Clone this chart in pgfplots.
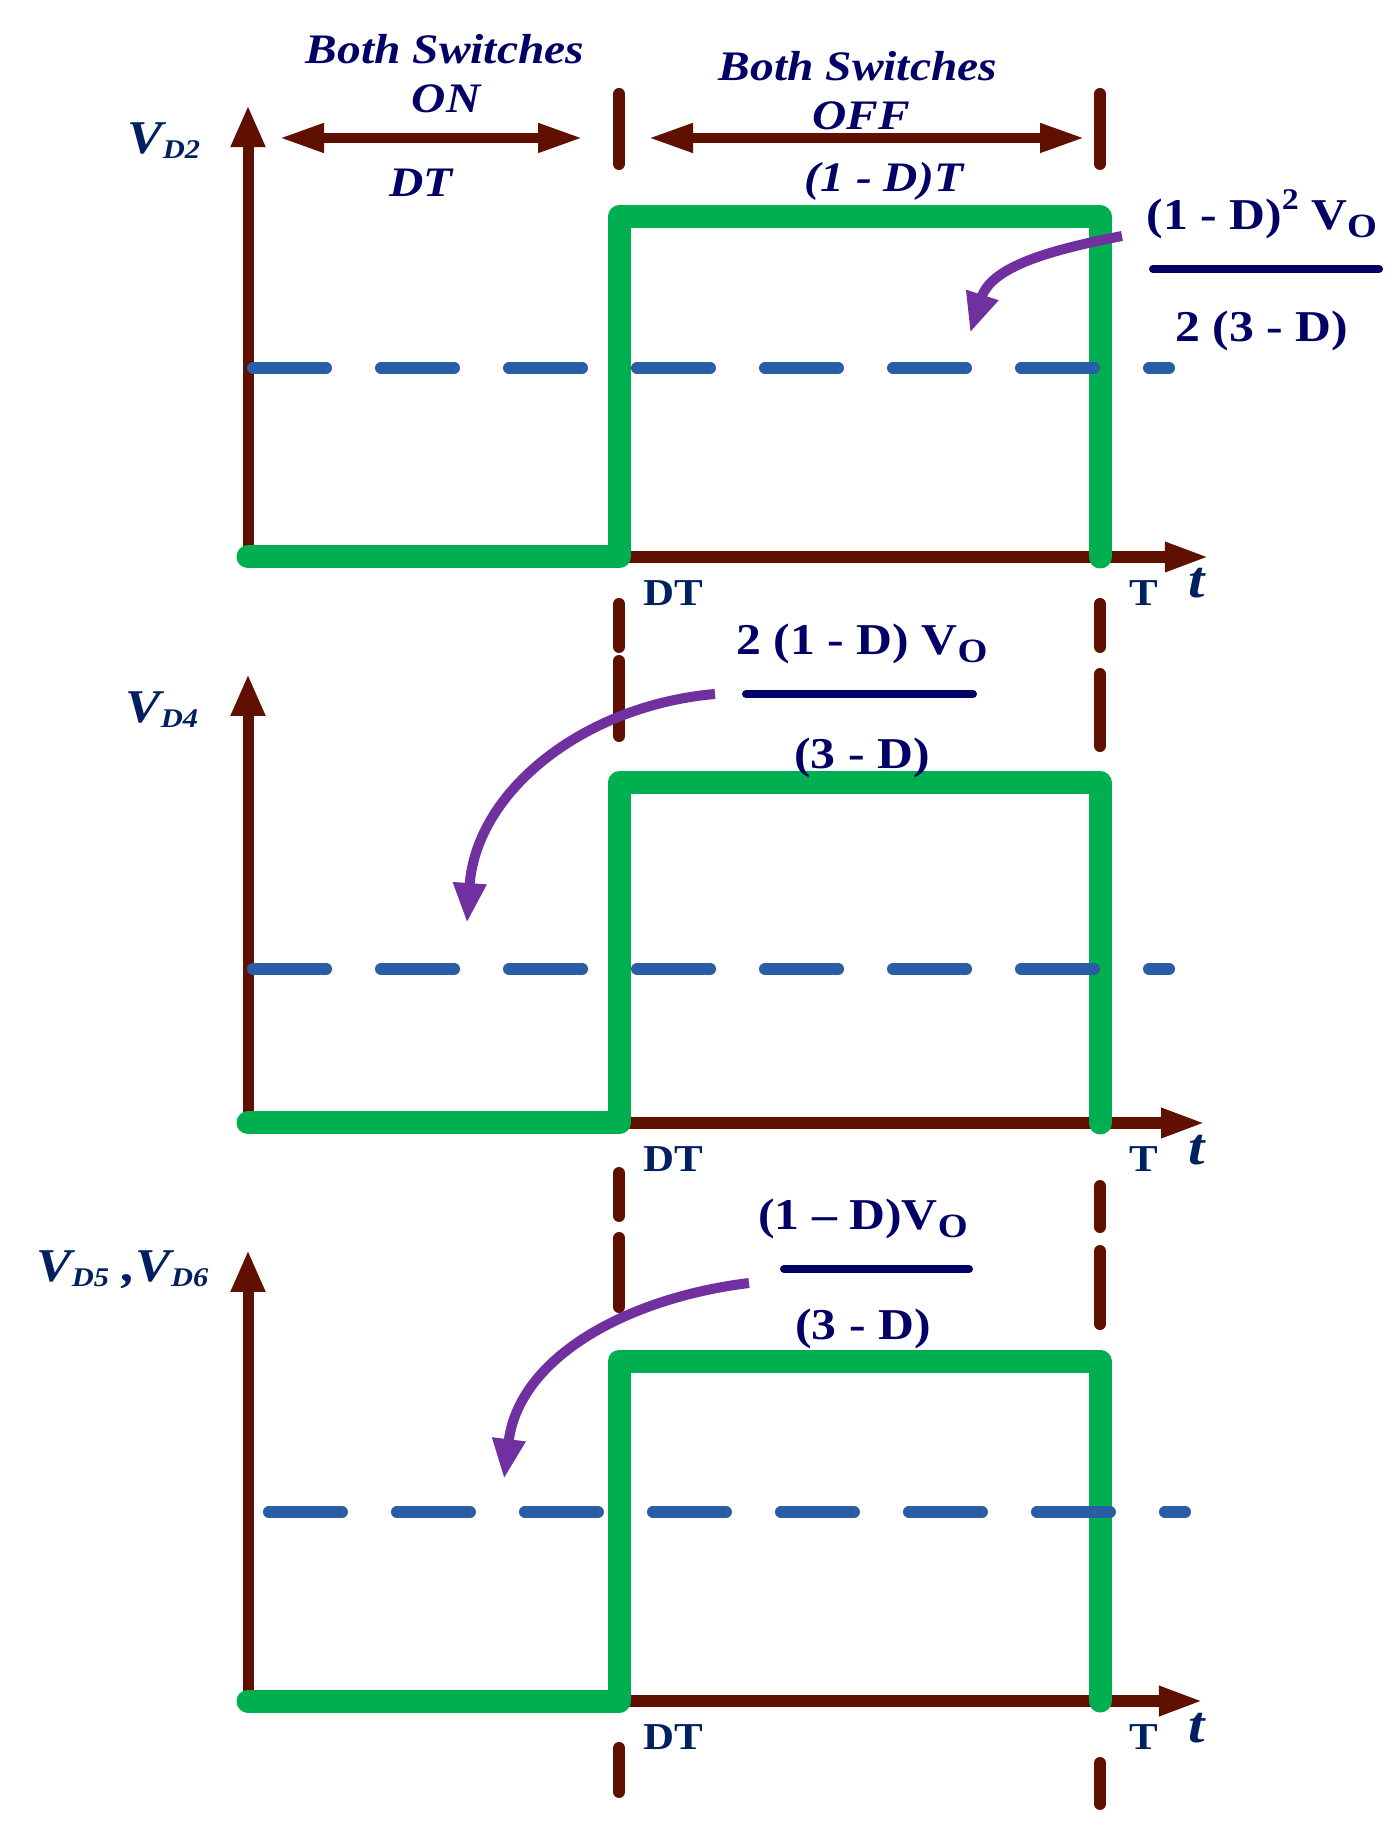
\documentclass[border=0pt]{standalone}
\usepackage{fontspec}
\setmainfont{Liberation Serif}[FakeStretch=1.13]
\usepackage{pgfplots}
\pgfplotsset{compat=1.18}
\usetikzlibrary{arrows.meta}
\definecolor{axbrown}{RGB}{96,16,0}
\definecolor{wgreen}{RGB}{0,176,80}
\definecolor{avgblue}{RGB}{41,94,166}
\definecolor{arrpurple}{RGB}{112,48,160}
\definecolor{navyA}{RGB}{0,0,102}
\definecolor{navyB}{RGB}{0,32,96}

\pgfplotsset{
  panel/.style={width=700pt, height=306pt, scale only axis, hide axis, clip=false,
    xmin=-0.29108, xmax=1.35211},
  wave/.style={wgreen, line width=11.5pt, line join=round, line cap=round},
  avg/.style={avgblue, line width=6pt, line cap=round, dash pattern=on 36.5pt off 27.5pt},
  markline/.style={axbrown, line width=6pt, line cap=round},
}
\tikzset{
  yax/.style={axbrown, line width=5.5pt, -{Triangle[length=21pt,width=16pt]}},
  xax/.style={axbrown, line width=6pt, -{Triangle[length=22.5pt,width=13.5pt]}},
  dbl/.style={axbrown, line width=5pt, {Triangle[length=22.5pt,width=13.5pt]}-{Triangle[length=22.5pt,width=13.5pt]}},
  parr/.style={arrpurple, line width=5pt, -{Triangle[length=20pt,width=15.5pt]}},
  fbar/.style={navyA, line width=4pt, line cap=round},
  toptxt/.style={anchor=base, inner sep=0pt, navyA, font=\fontsize{21}{25}\selectfont\bfseries\itshape},
  frtxt/.style={anchor=base, inner sep=0pt, navyA, font=\fontsize{22}{26}\selectfont\bfseries},
  vlab/.style={anchor=base west, inner sep=0pt, navyB, font=\fontsize{23.5}{28}\selectfont\bfseries\itshape},
  tlab/.style={anchor=base west, inner sep=0pt, navyB, font=\fontsize{19}{23}\selectfont\bfseries},
  tvar/.style={anchor=base west, inner sep=0pt, navyB, font=\fontsize{26}{30}\selectfont\bfseries\itshape},
}
\newcommand{\Sub}[1]{\raisebox{-2.5pt}{\fontsize{13.5}{16}\selectfont #1}}
\newcommand{\Vo}{V\raisebox{-4pt}{\fontsize{17}{20}\selectfont O}}

\begin{document}
\begin{tikzpicture}
\useasboundingbox (0pt,0pt) rectangle (700pt,-918pt);

% ---------------- Panel 1 : V_D2 ----------------
\begin{axis}[panel, at={(0pt,0pt)}, anchor=north west, ymin=-0.1618, ymax=1.6382]
\draw[yax] (axis cs:0,0) -- (axis cs:0,1.329);
\draw[xax] (axis cs:0,0) -- (axis cs:1.129,0);
\addplot[markline] coordinates {(0.4355,1.3618) (0.4355,1.1559)};
\addplot[markline] coordinates {(0.4355,-0.1382) (0.4355,-0.2647)};
\addplot[markline] coordinates {(1,1.3618) (1,1.1559)};
\addplot[markline] coordinates {(1,-0.1382) (1,-0.2647)};
\addplot[wave] coordinates {(0,0) (0.4355,0) (0.4355,1) (1,1) (1,0)};
\addplot[avg] coordinates {(0.0059,0.556) (1.081,0.556)};
\draw[dbl] (axis cs:0.0364,1.2324) -- (axis cs:0.3932,1.2324);
\draw[dbl] (axis cs:0.4695,1.2324) -- (axis cs:0.9824,1.2324);
\node[toptxt] at (axis cs:0.2312,1.4529) {Both Switches};
\node[toptxt] at (axis cs:0.2324,1.3059) {ON};
\node[toptxt] at (axis cs:0.2031,1.0588) {DT};
\node[toptxt] at (axis cs:0.7160,1.4029) {Both Switches};
\node[toptxt] at (axis cs:0.7195,1.2559) {OFF};
\node[toptxt] at (axis cs:0.7465,1.0735) {(1 - D)T};
\node[vlab] at (axis cs:-0.142,1.188) {V\Sub{D2}};
\node[tlab] at (axis cs:0.4636,-0.1412) {DT};
\node[tlab] at (axis cs:1.034,-0.1412) {T};
\node[tvar] at (axis cs:1.1033,-0.1206) {t};
\draw[parr] (axis cs:1.0258,0.9441) to[out=191,in=72] (axis cs:0.8474,0.6588);
\node[frtxt] at (axis cs:1.190,0.9618) {(1 - D)\raisebox{10pt}{\fontsize{15}{18}\selectfont 2} \Vo};
\draw[fbar] (axis cs:1.0622,0.847) -- (axis cs:1.3275,0.847);
\node[frtxt] at (axis cs:1.190,0.6324) {2 (3 - D)};
\end{axis}

% ---------------- Panel 2 : V_D4 ----------------
\begin{axis}[panel, at={(0pt,-306pt)}, anchor=north west, ymin=-0.2971, ymax=1.5029]
\draw[yax] (axis cs:0,0) -- (axis cs:0,1.3206);
\draw[xax] (axis cs:0,0) -- (axis cs:1.1245,0);
\addplot[markline] coordinates {(0.4355,1.3588) (0.4355,1.1382)};
\addplot[markline] coordinates {(0.4355,-0.1471) (0.4355,-0.2735)};
\addplot[markline] coordinates {(1,1.3206) (1,1.1088)};
\addplot[markline] coordinates {(1,-0.1853) (1,-0.3059)};
\addplot[wave] coordinates {(0,0) (0.4355,0) (0.4355,1) (1,1) (1,0)};
\addplot[avg] coordinates {(0.0059,0.453) (1.081,0.453)};
\node[vlab] at (axis cs:-0.1444,1.179) {V\Sub{D4}};
\node[tlab] at (axis cs:0.4636,-0.1412) {DT};
\node[tlab] at (axis cs:1.034,-0.1412) {T};
\node[tvar] at (axis cs:1.1033,-0.1206) {t};
\draw[parr] (axis cs:0.5481,1.2618) to[out=185,in=86] (axis cs:0.257,0.588);
\node[frtxt] at (axis cs:0.7207,1.3765) {2 (1 - D) \Vo};
\draw[fbar] (axis cs:0.5845,1.2618) -- (axis cs:0.8509,1.2618);
\node[frtxt] at (axis cs:0.7207,1.0412) {(3 - D)};
\end{axis}

% ---------------- Panel 3 : V_D5, V_D6 ----------------
\begin{axis}[panel, at={(0pt,-612pt)}, anchor=north west, ymin=-0.3971, ymax=1.4029]
\draw[yax] (axis cs:0,0) -- (axis cs:0,1.3265);
\draw[xax] (axis cs:0,0) -- (axis cs:1.122,0);
\addplot[markline] coordinates {(0.4355,1.3618) (0.4355,1.1588)};
\addplot[markline] coordinates {(0.4355,-0.1382) (0.4355,-0.2676)};
\addplot[markline] coordinates {(1,1.3235) (1,1.1088)};
\addplot[markline] coordinates {(1,-0.1824) (1,-0.3029)};
\addplot[wave] coordinates {(0,0) (0.4355,0) (0.4355,1) (1,1) (1,0)};
\addplot[avg] coordinates {(0.0246,0.556) (1.0998,0.556)};
\node[vlab] at (axis cs:-0.2488,1.2324) {V\Sub{D5} ,V\Sub{D6}};
\node[tlab] at (axis cs:0.4636,-0.1412) {DT};
\node[tlab] at (axis cs:1.034,-0.1412) {T};
\node[tvar] at (axis cs:1.1033,-0.1206) {t};
\draw[parr] (axis cs:0.588,1.2294) to[out=187,in=83] (axis cs:0.3005,0.6529);
\node[frtxt] at (axis cs:0.7218,1.3853) {(1 – D)\Vo};
\draw[fbar] (axis cs:0.6291,1.2706) -- (axis cs:0.8462,1.2706);
\node[frtxt] at (axis cs:0.7218,1.0618) {(3 - D)};
\end{axis}
\end{tikzpicture}
\end{document}
